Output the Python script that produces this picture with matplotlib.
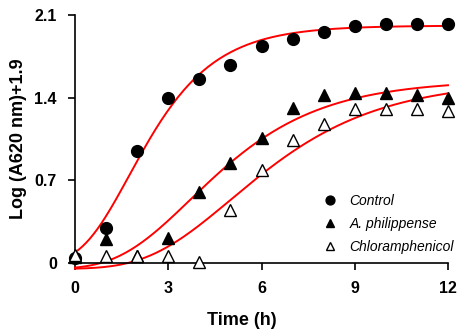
import numpy as np
import matplotlib

matplotlib.use("Agg")
import matplotlib.pyplot as plt

plt.rcParams["font.family"] = ["Liberation Sans", "DejaVu Sans"]

hours = [0, 1, 2, 3, 4, 5, 6, 7, 8, 9, 10, 11, 12]
control = [0.04, 0.30, 0.95, 1.40, 1.56, 1.68, 1.84, 1.90, 1.96, 2.01, 2.02, 2.02, 2.02]
philippense = [0.05, 0.20, 0.06, 0.21, 0.60, 0.85, 1.06, 1.31, 1.42, 1.44, 1.44, 1.42, 1.40]
chloramphenicol = [0.07, 0.06, 0.06, 0.06, 0.01, 0.45, 0.79, 1.04, 1.18, 1.30, 1.30, 1.30, 1.29]

# Gompertz fits: offset, amplitude, b, c  ->  d + A*exp(-b*exp(-c*t))
fit_control = [0.0, 2.01, 3.11, 0.652]
fit_philippense = [-0.05, 1.60, 4.95, 0.43]
fit_chloramphenicol = [-0.05, 1.60, 6.54, 0.374]

x_ticks = [0, 3, 6, 9, 12]
y_ticks = [0, 0.7, 1.4, 2.1]
y_tick_labels = ["0", "0.7", "1.4", "2.1"]


def gompertz(t, params):
    d, a, b, c = params
    return d + a * np.exp(-b * np.exp(-c * t))


fig = plt.figure(figsize=(4.59, 3.33), dpi=100)
ax = fig.add_axes([75 / 459, 70 / 333, 373 / 459, 248 / 333])

t = np.linspace(0, 12, 200)
for params in (fit_control, fit_philippense, fit_chloramphenicol):
    ax.plot(t, gompertz(t, params), color="red", lw=1.4, clip_on=False, zorder=2)

ms = 8.5
ax.plot(hours, control, "o", color="black", ms=ms, ls="none", clip_on=False,
        zorder=3, label="Control")
ax.plot(hours, philippense, "^", color="black", ms=ms, ls="none", clip_on=False,
        zorder=3, label="A. philippense")
ax.plot(hours, chloramphenicol, "^", mfc="white", mec="black", mew=1.0, ms=ms,
        ls="none", clip_on=False, zorder=4, label="Chloramphenicol")

ax.set_xlim(0, 12)
ax.set_ylim(0, 2.1)
ax.set_xticks(x_ticks)
ax.set_yticks(y_ticks)
ax.set_yticklabels(y_tick_labels)
for s in ("top", "right"):
    ax.spines[s].set_visible(False)
for s in ("left", "bottom"):
    ax.spines[s].set_linewidth(1.2)
ax.tick_params(direction="out", length=5, width=1.2, labelsize=11.5, pad=8)
for lab in ax.get_xticklabels() + ax.get_yticklabels():
    lab.set_fontweight("bold")

ax.set_xlabel("Time (h)", fontsize=13, fontweight="bold")
ax.xaxis.set_label_coords((241.5 - 75) / 373, (263 - 312) / 248)
ax.set_ylabel("Log (A620 nm)+1.9", fontsize=13, fontweight="bold")
ax.yaxis.set_label_coords((27 - 75) / 373, 0.5)

leg = ax.legend(loc="upper left", bbox_to_anchor=(310.5 / 459, 1 - 181.5 / 333),
                bbox_transform=fig.transFigure, frameon=False, handlelength=1.0,
                handletextpad=0.9, labelspacing=0.65, markerscale=0.75,
                prop={"style": "italic", "size": 10})

fig.savefig("out.png", dpi=100)
